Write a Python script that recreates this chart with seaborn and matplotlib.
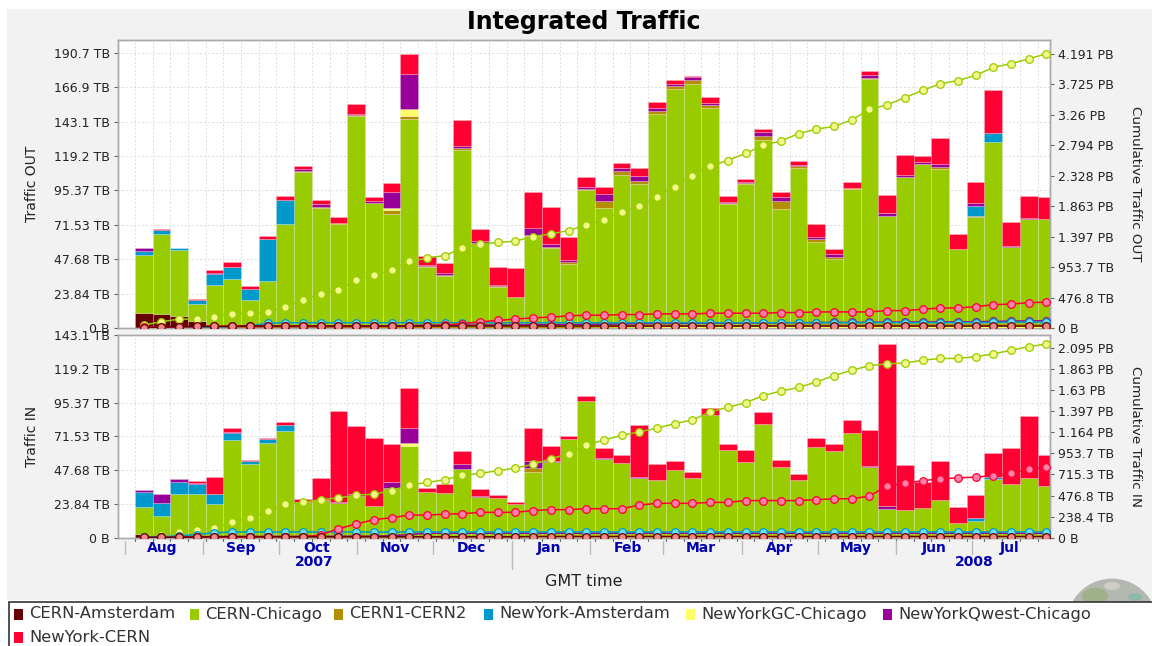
import numpy as np
import pandas as pd
import seaborn as sns
import matplotlib
matplotlib.use("Agg")
import matplotlib.pyplot as plt
import matplotlib.dates as mdates
from matplotlib.patches import Rectangle, Circle, Ellipse
from matplotlib.transforms import blended_transform_factory

W, H = 1152, 646

names = ["CERN-Amsterdam", "CERN-Chicago", "CERN1-CERN2", "NewYork-Amsterdam",
         "NewYorkGC-Chicago", "NewYorkQwest-Chicago", "NewYork-CERN"]
colors = ["#660000", "#99cc00", "#b38f00", "#0099cc", "#ffff66", "#990099", "#ff0033"]
faces = ["#f08a8a", "#f4f78a", "#f0d060", "#70e0f0", "#ffffa0", "#e080e0", "#ff80a8"]

weeks = pd.date_range("2007-08-05", periods=52, freq="7D")

# traffic out, TB per week
out_ams = [10.8, 9.9, 8.5, 5.3, 1.1, 1.0, 1.0] + [0.5] * 45
out_chi = [40.2, 55.4, 45.7, 11.8, 29.1, 33.4, 18.6, 32.0, 71.7, 107.9, 82.5, 71.9, 146.4,
           86.0, 78.8, 144.3, 42.2, 35.7, 122.9, 58.3, 28.3, 20.9, 63.4, 54.9, 44.0, 95.2,
           82.5, 105.6, 99.1, 148.0, 165.1, 168.3, 151.7, 85.5, 99.4, 129.8, 82.1, 110.7,
           59.5, 47.5, 96.1, 172.0, 77.2, 104.0, 113.0, 109.7, 54.6, 76.8, 128.2, 56.0, 75.4, 75.1]
out_c12 = [0, 0, 0, 0, 0, 0, 0, 0, 0, 0.4, 0.9, 0.5, 0.5, 0.5, 2.6, 1.9, 0.5, 0.5, 1.4, 0.5,
           0.4, 0, 0.5, 1.2, 1.2, 0.6, 4.9, 2.5, 2.3, 1.9, 2.3, 2.8, 2.1, 0.5, 0.5, 3.0, 5.5,
           1.0, 1.6, 1.6, 0.3, 0.7, 0.3, 0.3, 0.5, 1.2, 0, 0.3, 0, 0, 0, 0]
out_nya = [2.7, 2.7, 1.2, 2.7, 7.4, 7.8, 7.6, 29.3, 16.6] + [0] * 38 + [7.3, 6.2, 0, 0, 0]
out_gc = [0] * 14 + [1.6, 4.8] + [0] * 36
out_qw = [1.7, 0, 0.5, 0, 0.9, 0.4, 0, 0, 0, 1.2, 2.1, 0, 1.1, 1.1, 11.1, 24.5, 0.5, 1.4, 1.6,
          1.1, 0.8, 0, 4.8, 1.5, 1.6, 1.2, 4.8, 2.1, 3.3, 2.0, 1.1, 2.1, 1.8, 1.1, 1.1, 2.3,
          3.0, 0.8, 1.8, 1.6, 0, 2.1, 1.6, 1.1, 0.9, 2.5, 0, 1.6, 0.5, 0.3, 0.3, 0.3]
out_nyc = [0, 0.7, 0, 0.4, 1.9, 3.3, 1.9, 2.3, 2.8, 2.1, 3.0, 4.1, 6.9, 3.0, 6.2, 14.0, 6.6,
           7.3, 17.5, 8.1, 12.7, 20.6, 25.4, 25.8, 15.9, 7.2, 5.3, 3.5, 6.0, 4.4, 3.0, 1.1,
           4.2, 4.0, 1.6, 2.1, 3.5, 2.8, 8.8, 3.9, 4.3, 2.7, 12.9, 13.8, 4.1, 17.6, 9.9,
           14.5, 29.7, 16.5, 15.4, 15.0]

# traffic in, TB per week
in_ams = [2.6, 2.0, 1.5, 1.5] + [1.0] * 48
in_chi = [18.8, 13.1, 29.3, 29.3, 22.5, 68.0, 51.0, 66.1, 74.3, 24.0, 25.6, 23.2, 28.7, 21.1,
          34.3, 63.5, 31.2, 30.3, 47.5, 27.7, 27.0, 22.8, 45.1, 52.2, 68.4, 95.3, 54.8, 52.0,
          40.9, 39.7, 46.8, 41.1, 85.6, 61.1, 52.7, 79.5, 48.9, 39.5, 63.0, 60.4, 72.9, 48.9,
          19.0, 18.3, 20.0, 25.6, 9.6, 10.5, 40.2, 36.9, 41.4, 35.5]
in_c12 = [0] * 22 + [2.9] + [0] * 29
in_nya = [11.1, 9.6, 8.5, 7.1, 7.3, 4.7, 2.1, 2.3, 4.0] + [0] * 38 + [2.6, 1.9, 0, 0, 0]
in_gc = [0] * 15 + [2.1] + [0] * 36
in_qw = [1.2, 5.9, 1.9, 1.0, 0, 1.2, 0, 0, 0, 0, 0, 1.0, 1.0, 0, 4.2, 10.6, 0, 0, 3.3, 1.0, 0,
         0, 5.4, 1.2, 0, 0, 0.7, 0, 1.0, 0, 0, 0, 0, 0, 0, 0, 0, 0, 0, 0, 0, 0.7, 2.4, 0, 0,
         0, 0, 0, 0, 0, 0, 0]
in_nyc = [0, 0, 0, 1.1, 12.3, 2.5, 0.7, 1.0, 2.6, 2.1, 15.8, 64.3, 48.2, 48.0, 26.4, 28.7, 3.1,
          6.8, 9.2, 4.7, 1.9, 1.2, 23.3, 10.1, 2.6, 3.7, 6.6, 5.1, 36.4, 11.6, 6.1, 4.0, 5.2,
          4.3, 8.0, 8.0, 4.9, 4.7, 6.6, 5.0, 9.4, 25.2, 114.6, 32.3, 18.5, 27.5, 10.8, 15.8,
          16.7, 25.4, 43.5, 21.6]

# cumulative out, PB
cum_out_chi = [0.05, 0.10, 0.14, 0.14, 0.18, 0.22, 0.23, 0.25, 0.33, 0.43, 0.52, 0.59, 0.73,
               0.81, 0.89, 1.02, 1.07, 1.11, 1.22, 1.29, 1.31, 1.33, 1.40, 1.44, 1.49, 1.58,
               1.66, 1.77, 1.86, 2.00, 2.16, 2.33, 2.48, 2.56, 2.67, 2.79, 2.86, 2.97, 3.04,
               3.08, 3.18, 3.34, 3.41, 3.52, 3.63, 3.73, 3.78, 3.86, 3.98, 4.04, 4.11, 4.19]
cum_out_nyc = [0.02, 0.02, 0.02, 0.025, 0.03, 0.035, 0.035, 0.035, 0.035, 0.035, 0.035, 0.035,
               0.035, 0.035, 0.035, 0.035, 0.035, 0.05, 0.07, 0.10, 0.12, 0.14, 0.16, 0.17,
               0.19, 0.20, 0.20, 0.21, 0.21, 0.22, 0.22, 0.22, 0.23, 0.23, 0.23, 0.23, 0.24,
               0.24, 0.25, 0.25, 0.25, 0.25, 0.27, 0.27, 0.29, 0.31, 0.31, 0.33, 0.36, 0.37,
               0.39, 0.40]
cum_out_nya = [0.005, 0.008, 0.01, 0.013, 0.02, 0.03, 0.04, 0.075] + [0.085] * 37 + \
              [0.087, 0.088, 0.088, 0.09, 0.095, 0.095, 0.095]
cum_out_qw = [0.002, 0.002, 0.003, 0.003, 0.004, 0.004, 0.004, 0.004, 0.004, 0.006, 0.008,
              0.008, 0.01, 0.012, 0.02, 0.045, 0.046, 0.047, 0.048, 0.05, 0.05, 0.05, 0.055,
              0.056, 0.058, 0.06, 0.064, 0.066, 0.07, 0.072, 0.073, 0.075, 0.077, 0.078, 0.08,
              0.082, 0.085, 0.086, 0.088, 0.09, 0.09, 0.092, 0.094, 0.095, 0.096, 0.098, 0.098,
              0.10, 0.105, 0.11, 0.112, 0.115]
cum_out_ams = [0.01, 0.02, 0.025, 0.03, 0.03, 0.03] + [0.035] * 46
cum_out_c12 = [0.002] * 9 + [0.003, 0.004, 0.004, 0.005, 0.005, 0.008, 0.01, 0.01, 0.011, 0.012,
               0.013, 0.013, 0.013, 0.014, 0.015, 0.016, 0.017, 0.022, 0.025, 0.027, 0.029, 0.031,
               0.034, 0.036, 0.036, 0.037, 0.04, 0.045, 0.046, 0.048, 0.05, 0.05, 0.05, 0.05, 0.05,
               0.051, 0.052, 0.052, 0.052, 0.052, 0.052, 0.052, 0.052]
cum_out_gc = [0.001] * 14 + [0.003, 0.008] + [0.008] * 36

# cumulative in, PB
cum_in_chi = [0.02, 0.03, 0.06, 0.09, 0.11, 0.17, 0.22, 0.29, 0.37, 0.39, 0.42, 0.44, 0.47, 0.48,
              0.52, 0.58, 0.61, 0.64, 0.69, 0.71, 0.74, 0.77, 0.81, 0.87, 0.93, 1.02, 1.08, 1.13,
              1.17, 1.21, 1.26, 1.30, 1.39, 1.44, 1.49, 1.57, 1.62, 1.66, 1.72, 1.79, 1.85, 1.90,
              1.92, 1.93, 1.96, 1.98, 1.98, 2.00, 2.03, 2.07, 2.11, 2.14]
cum_in_nyc = [0.002, 0.002, 0.003, 0.004, 0.006, 0.007, 0.008, 0.009, 0.01, 0.012, 0.03, 0.10,
              0.15, 0.20, 0.22, 0.25, 0.25, 0.26, 0.265, 0.28, 0.28, 0.28, 0.30, 0.31, 0.31, 0.32,
              0.32, 0.32, 0.36, 0.38, 0.38, 0.38, 0.39, 0.39, 0.41, 0.41, 0.41, 0.41, 0.42, 0.43,
              0.43, 0.46, 0.57, 0.60, 0.63, 0.65, 0.66, 0.67, 0.685, 0.71, 0.755, 0.78]
cum_in_nya = [0.004, 0.012, 0.02, 0.035, 0.055] + [0.063] * 47
cum_in_qw = [0.002, 0.008, 0.01, 0.012, 0.012, 0.014, 0.014, 0.014, 0.014, 0.014, 0.014, 0.016,
             0.017, 0.017, 0.022, 0.034] + [0.05] * 36
cum_in_ams = [0.003, 0.005, 0.006, 0.007] + [0.011] * 48
cum_in_c12 = [0.003] * 22 + [0.02] * 30
cum_in_gc = [0.001] * 15 + [0.005] * 37

left_ticks_out = [0, 23.84, 47.68, 71.53, 95.37, 119.2, 143.1, 166.9, 190.7]
left_labels_out = ["0 B", "23.84 TB", "47.68 TB", "71.53 TB", "95.37 TB", "119.2 TB",
                   "143.1 TB", "166.9 TB", "190.7 TB"]
left_ticks_in = [0, 23.84, 47.68, 71.53, 95.37, 119.2, 143.1]
left_labels_in = ["0 B", "23.84 TB", "47.68 TB", "71.53 TB", "95.37 TB", "119.2 TB", "143.1 TB"]
right_ticks_out = [0, 0.4657, 0.9313, 1.397, 1.863, 2.328, 2.794, 3.26, 3.725, 4.191]
right_labels_out = ["0 B", "476.8 TB", "953.7 TB", "1.397 PB", "1.863 PB", "2.328 PB",
                    "2.794 PB", "3.26 PB", "3.725 PB", "4.191 PB"]
right_ticks_in = [0, 0.2328, 0.4657, 0.6985, 0.9313, 1.164, 1.397, 1.63, 1.863, 2.095]
right_labels_in = ["0 B", "238.4 TB", "476.8 TB", "715.3 TB", "953.7 TB", "1.164 PB",
                   "1.397 PB", "1.63 PB", "1.863 PB", "2.095 PB"]

month_starts = pd.date_range("2007-08-01", "2008-07-01", freq="MS")
month_labels = ["Aug", "Sep", "Oct", "Nov", "Dec", "Jan", "Feb", "Mar", "Apr", "May", "Jun", "Jul"]
year_labels = ["2007", "2008"]
year_dates = pd.to_datetime(["2007-10-15", "2008-07-02"])

sns.set_theme(style="white")
plt.rcParams["font.family"] = "DejaVu Sans"
text_col = "#222222"
blue_txt = "#0000b0"


def px_box(x0, y0, x1, y1):
    return [x0 / W, 1 - y1 / H, (x1 - x0) / W, (y1 - y0) / H]


fig = plt.figure(figsize=(W / 100, H / 100), dpi=100, facecolor="white")
fig.add_artist(Rectangle((7 / W, 1 - 600 / H), 1 - 7 / W, 591 / H, transform=fig.transFigure,
                         facecolor="#f2f2f2", edgecolor="none", zorder=-5))

x_days = mdates.date2num(weeks) + 3.5
xlim = (mdates.date2num(pd.Timestamp("2007-07-29 12:00")), mdates.date2num(pd.Timestamp("2008-07-31 18:00")))


def panel(box, series, cums, ymax, ymax_r, lticks, llabels, rticks, rlabels, lname, rname):
    ax = fig.add_axes(px_box(*box))
    bottom = np.zeros(len(x_days))
    for vals, col in zip(series, colors):
        vals = np.array(vals, dtype=float)
        sns.barplot(x=x_days, y=vals, bottom=bottom, native_scale=True, width=1, color=col,
                    saturation=1, errorbar=None, ax=ax, zorder=2)
        bottom = bottom + vals
    for p in ax.patches:
        if p.get_height() > 0:
            p.set_edgecolor((1, 1, 1, 0.3))
            p.set_linewidth(0.5)
        else:
            p.set_linewidth(0)
    ax.set_xlim(*xlim)
    ax.set_ylim(0, ymax)
    ax.set_xlabel("")
    ax.set_ylabel("")
    ax.set_facecolor("white")
    ax.set_xticks(mdates.date2num(weeks))
    ax.set_yticks(lticks)
    ax.set_yticklabels(llabels, fontsize=9, color=text_col)
    ax.grid(True, color="#dddddd", linestyle=(0, (2, 2)), linewidth=0.7, zorder=0)
    ax.set_axisbelow(True)
    ax.tick_params(axis="y", length=3, width=0.8, color="#666666", pad=3, left=True)
    ax.tick_params(axis="x", labelbottom=False, bottom=False)

    ax2 = ax.twinx()
    # Amsterdam goes last, its dark rings sit on top along the floor of the panel
    for i in [4, 1, 5, 2, 3, 6, 0]:
        sns.lineplot(x=x_days, y=cums[i], color=colors[i], marker="o", markersize=5.5,
                     markerfacecolor=faces[i], markeredgecolor=colors[i], markeredgewidth=0.9,
                     linewidth=1.1, errorbar=None, ax=ax2, legend=False, zorder=3)
    ax2.set_xlim(*xlim)
    ax2.set_ylim(0, ymax_r)
    ax2.set_ylabel("")
    ax2.set_yticks(rticks)
    ax2.set_yticklabels(rlabels, fontsize=9, color=text_col)
    ax2.tick_params(axis="y", length=3, width=0.8, color="#666666", pad=3, right=True)
    ax2.grid(False)
    for a in (ax, ax2):
        for s in a.spines.values():
            s.set_color("#aaaaaa")
            s.set_linewidth(1.0)
    cy = 1 - (box[1] + box[3]) / 2 / H
    fig.text(32 / W, cy, lname, rotation=90, ha="center", va="center", fontsize=10, color=text_col)
    fig.text(1135 / W, cy, rname, rotation=270, ha="center", va="center", fontsize=9.7, color=text_col)
    return ax


panel((118.4, 40, 1049.6, 328.3), [out_ams, out_chi, out_c12, out_nya, out_gc, out_qw, out_nyc],
      [cum_out_ams, cum_out_chi, cum_out_c12, cum_out_nya, cum_out_gc, cum_out_qw, cum_out_nyc],
      199.5, 4.399, left_ticks_out, left_labels_out, right_ticks_out, right_labels_out,
      "Traffic OUT", "Cumulative Traffic OUT")
ax_in = panel((118.4, 335, 1049.6, 537.7), [in_ams, in_chi, in_c12, in_nya, in_gc, in_qw, in_nyc],
              [cum_in_ams, cum_in_chi, cum_in_c12, cum_in_nya, cum_in_gc, cum_in_qw, cum_in_nyc],
              143.1, 2.239, left_ticks_in, left_labels_in, right_ticks_in, right_labels_in,
              "Traffic IN", "Cumulative Traffic IN")

# weekly ticks, month and year bands under the lower panel
tr = blended_transform_factory(ax_in.transData, fig.transFigure)
fy = lambda y: 1 - y / H
for d in mdates.date2num(weeks):
    ax_in.plot([d, d], [fy(538), fy(541)], transform=tr, color="#666666", lw=0.8, clip_on=False)
for m, lab in zip(month_starts, month_labels):
    d = mdates.date2num(m)
    end = fy(569) if m.month == 1 else fy(554)
    ax_in.plot([d, d], [fy(541), end], transform=tr, color="#bbbbbb", lw=1.0, clip_on=False)
    ax_in.text(d + 15, fy(548), lab, transform=tr, ha="center", va="center", fontsize=10,
               fontweight="bold", color=blue_txt)
for d, lab in zip(year_dates, year_labels):
    ax_in.text(mdates.date2num(d), fy(562), lab, transform=tr, ha="center", va="center",
               fontsize=10, fontweight="bold", color=blue_txt)

fig.text(584 / W, fy(22), "Integrated Traffic", ha="center", va="center", fontsize=17,
         fontweight="bold", color="black")
fig.text(584 / W, fy(581), "GMT time", ha="center", va="center", fontsize=11.5, color=text_col)

# the globe behind the legend box
bg = fig.add_axes([0, 0, 1, 1], zorder=-1)
bg.set_xlim(0, W)
bg.set_ylim(H, 0)
bg.axis("off")
bg.patch.set_alpha(0)
bg.add_patch(Circle((1112, 624), 45.4, facecolor="#b3b8b0", edgecolor="none"))
bg.add_patch(Ellipse((1095, 596), 26, 16, facecolor="#9fb08a", edgecolor="none"))
bg.add_patch(Ellipse((1112, 586), 16, 8, facecolor="#cfcfc8", edgecolor="none"))
bg.add_patch(Ellipse((1135, 597), 14, 8, facecolor="#8fb8ac", edgecolor="none"))

# legend box
lg = fig.add_axes([0, 0, 1, 1], zorder=5)
lg.set_xlim(0, W)
lg.set_ylim(H, 0)
lg.axis("off")
lg.patch.set_alpha(0)
lg.add_patch(Rectangle((9, 602), W, 60, facecolor="white", edgecolor="#333333", linewidth=1.2))
legend_x = [14, 190, 334, 484, 686, 883, 14]
legend_y = [614, 614, 614, 614, 614, 614, 637]
for x, y, name, col in zip(legend_x, legend_y, names, colors):
    lg.add_patch(Rectangle((x, y - 5.5), 8.5, 11, facecolor=col, edgecolor="none"))
    lg.text(x + 15, y, name, ha="left", va="center", fontsize=11.8, color="#333333")

fig.savefig("out.png", dpi=100, facecolor="white")
